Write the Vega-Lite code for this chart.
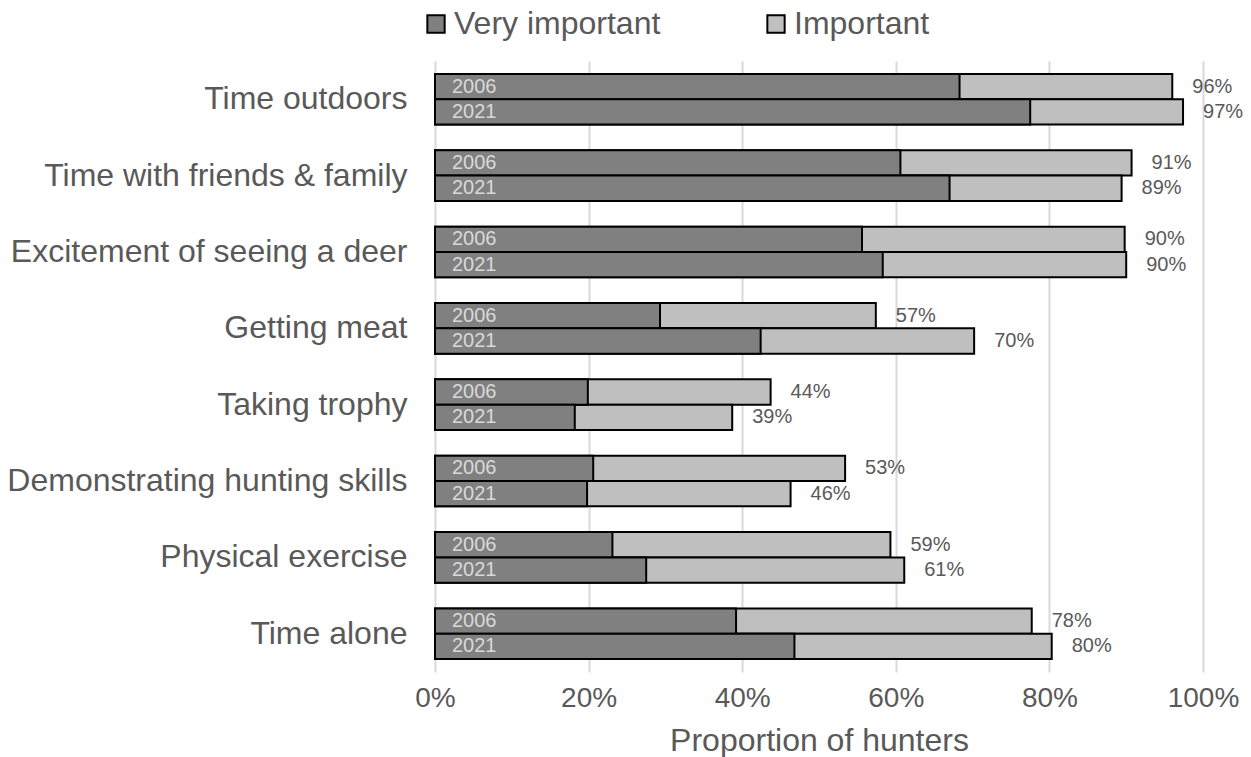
{
  "$schema": "https://vega.github.io/schema/vega-lite/v6.json",
  "width": 768,
  "height": 611,
  "autosize": {"type": "none"},
  "padding": {"left": 435, "top": 61, "right": 48, "bottom": 85},
  "background": "white",
  "config": {
    "font": "Liberation Sans",
    "view": {"stroke": null}
  },
  "data": {
    "values": [
      {"category": "Time outdoors", "year": "2006", "very": 0.683, "total": 0.960},
      {"category": "Time outdoors", "year": "2021", "very": 0.775, "total": 0.974},
      {"category": "Time with friends & family", "year": "2006", "very": 0.606, "total": 0.907},
      {"category": "Time with friends & family", "year": "2021", "very": 0.670, "total": 0.894},
      {"category": "Excitement of seeing a deer", "year": "2006", "very": 0.556, "total": 0.898},
      {"category": "Excitement of seeing a deer", "year": "2021", "very": 0.583, "total": 0.900},
      {"category": "Getting meat", "year": "2006", "very": 0.293, "total": 0.574},
      {"category": "Getting meat", "year": "2021", "very": 0.424, "total": 0.702},
      {"category": "Taking trophy", "year": "2006", "very": 0.199, "total": 0.437},
      {"category": "Taking trophy", "year": "2021", "very": 0.182, "total": 0.387},
      {"category": "Demonstrating hunting skills", "year": "2006", "very": 0.206, "total": 0.534},
      {"category": "Demonstrating hunting skills", "year": "2021", "very": 0.198, "total": 0.463},
      {"category": "Physical exercise", "year": "2006", "very": 0.231, "total": 0.593},
      {"category": "Physical exercise", "year": "2021", "very": 0.275, "total": 0.611},
      {"category": "Time alone", "year": "2006", "very": 0.392, "total": 0.777},
      {"category": "Time alone", "year": "2021", "very": 0.468, "total": 0.803}
    ]
  },
  "encoding": {
    "y": {
      "field": "category",
      "type": "nominal",
      "sort": null,
      "scale": {"paddingInner": 0.337, "paddingOuter": 0.169},
      "axis": {
        "title": null,
        "domain": false,
        "ticks": false,
        "labelFontSize": 32,
        "labelColor": "#595959",
        "labelPadding": 28,
        "labelLimit": 500
      }
    },
    "yOffset": {
      "field": "year",
      "type": "nominal",
      "sort": ["2006", "2021"],
      "scale": {"paddingInner": 0, "paddingOuter": 0}
    }
  },
  "layer": [
    {
      "mark": {"type": "bar", "stroke": "black", "strokeWidth": 2},
      "encoding": {
        "x": {
          "field": "total",
          "type": "quantitative",
          "scale": {"domain": [0, 1], "nice": false},
          "axis": {
            "values": [0, 0.2, 0.4, 0.6, 0.8, 1],
            "format": ".0%",
            "domain": false,
            "ticks": false,
            "grid": true,
            "gridColor": "#d9d9d9",
            "gridWidth": 2,
            "labelFlush": false,
            "labelFontSize": 28,
            "labelColor": "#595959",
            "labelPadding": 12,
            "title": "Proportion of hunters",
            "titleFontSize": 32,
            "titleFontWeight": "normal",
            "titleColor": "#595959",
            "titlePadding": 13
          }
        },
        "color": {
          "datum": "Important",
          "type": "nominal",
          "scale": {"domain": ["Very important", "Important"], "range": ["#808080", "#bfbfbf"]},
          "legend": {
            "orient": "none",
            "legendX": -15,
            "legendY": -53,
            "direction": "horizontal",
            "title": null,
            "symbolType": "square",
            "symbolSize": 300,
            "symbolStrokeColor": "black",
            "symbolStrokeWidth": 2,
            "labelFontSize": 32,
            "labelColor": "#595959",
            "labelOffset": 2,
            "labelLimit": 400,
            "columnPadding": 99
          }
        }
      }
    },
    {
      "mark": {"type": "bar", "stroke": "black", "strokeWidth": 2},
      "encoding": {
        "x": {"field": "very", "type": "quantitative"},
        "color": {"datum": "Very important", "type": "nominal"}
      }
    },
    {
      "mark": {"type": "text", "align": "left", "baseline": "middle", "dx": 17, "fontSize": 20, "color": "#d9d9d9"},
      "encoding": {
        "x": {"datum": 0, "type": "quantitative"},
        "text": {"field": "year", "type": "nominal"}
      }
    },
    {
      "mark": {"type": "text", "align": "left", "baseline": "middle", "dx": 20, "fontSize": 20, "color": "#595959"},
      "encoding": {
        "x": {"field": "total", "type": "quantitative"},
        "text": {"field": "total", "type": "quantitative", "format": ".0%"}
      }
    }
  ]
}
